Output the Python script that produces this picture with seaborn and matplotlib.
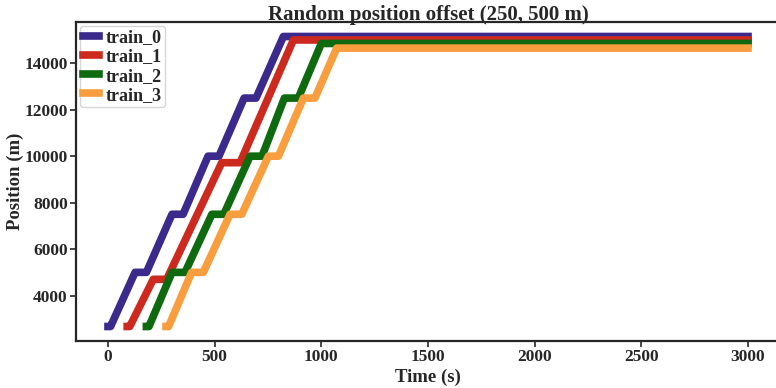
import numpy as np
import pandas as pd
import matplotlib
matplotlib.use("Agg")
import matplotlib.pyplot as plt
import seaborn as sns

# ---- data ----
train_names = ["train_0", "train_1", "train_2", "train_3"]

t0 = [0, 12, 127, 180, 300, 352, 469, 520, 638, 694, 822, 3000]
p0 = [2670, 2670, 5000, 5000, 7500, 7500, 10000, 10000, 12500, 12500, 15150, 15150]

t1 = [90, 102, 212, 275, 533, 619, 869, 3000]
p1 = [2670, 2670, 4700, 4700, 9720, 9720, 15000, 15000]

t2 = [180, 192, 300, 361, 487, 543, 666, 722, 827, 892, 1000, 3000]
p2 = [2670, 2670, 5000, 5000, 7500, 7500, 10000, 10000, 12500, 12500, 14850, 14850]

t3 = [272, 284, 392, 447, 572, 627, 752, 799, 916, 970, 1072, 3000]
p3 = [2670, 2670, 5000, 5000, 7500, 7500, 10000, 10000, 12500, 12500, 14650, 14650]

colors = ["#3b2a8c", "#cc2a1e", "#0f6a0f", "#f99e3f"]

title = "Random position offset (250, 500 m)"
xlabel = "Time (s)"
ylabel = "Position (m)"

# ---- build long-form table ----
frames = []
for name, t, p in zip(train_names, [t0, t1, t2, t3], [p0, p1, p2, p3]):
    frames.append(pd.DataFrame({"Time": t, "Position": p, "train": name}))
df = pd.concat(frames, ignore_index=True)

sns.set_theme(style="white")
plt.rcParams["font.family"] = ["Liberation Serif", "DejaVu Serif"]
plt.rcParams["font.weight"] = "bold"
plt.rcParams["lines.solid_capstyle"] = "projecting"
plt.rcParams["lines.solid_joinstyle"] = "round"

fig = plt.figure(figsize=(7.76, 3.88), dpi=100)
ax = fig.add_axes([76 / 776, 47 / 388, 704 / 776, 319 / 388])

sns.lineplot(data=df, x="Time", y="Position", hue="train",
             palette=dict(zip(train_names, colors)), estimator=None,
             linewidth=5.5, ax=ax, legend=True)
for ln in ax.get_lines():
    ln.set_solid_capstyle("projecting")
    ln.set_solid_joinstyle("round")

ax.set_title(title, fontsize=15, fontweight="bold", pad=1.5)
ax.set_xlabel(xlabel, fontsize=13.5, fontweight="bold", labelpad=2.5)
ax.set_ylabel(ylabel, fontsize=13.5, fontweight="bold", labelpad=0)
ax.set_xticks([0, 500, 1000, 1500, 2000, 2500, 3000])
ax.set_yticks([4000, 6000, 8000, 10000, 12000, 14000])
ax.tick_params(axis="both", which="major", labelsize=12.5, direction="out",
               length=4, width=1.2, color="#262626", pad=2,
               bottom=True, left=True)
for lab in ax.get_xticklabels() + ax.get_yticklabels():
    lab.set_fontweight("bold")
for s in ax.spines.values():
    s.set_color("#262626")
    s.set_linewidth(1.6)

handles, labels = ax.get_legend_handles_labels()
leg = ax.legend(handles, labels, loc="upper left",
                prop={"weight": "bold", "size": 13},
                handlelength=0.9, handletextpad=0.33, borderpad=0.2,
                labelspacing=0.12, borderaxespad=0.2, frameon=True,
                fancybox=True, framealpha=0.8)
for h in leg.get_lines():
    h.set_linewidth(5.5)
    h.set_solid_capstyle("projecting")

fig.savefig("out.png", dpi=100)
